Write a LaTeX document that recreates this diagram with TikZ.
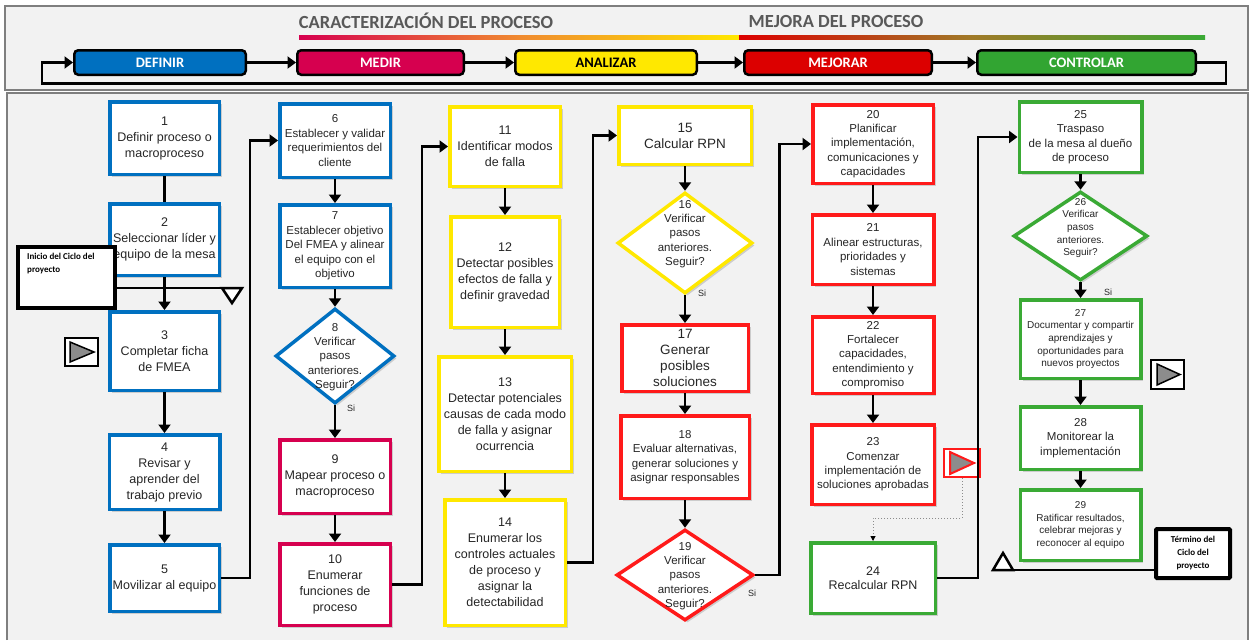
\documentclass[tikz,border=0pt]{standalone}
\usepackage{fontspec}
\setmainfont{Liberation Sans}
\newfontfamily\calfont{Carlito}
\usetikzlibrary{arrows.meta,shapes.geometric,shadows}
\definecolor{bgc}{HTML}{F2F2F2}
\definecolor{frm}{HTML}{7F7F7F}
\definecolor{cblue}{HTML}{0070C0}
\definecolor{ccrim}{HTML}{D6004F}
\definecolor{cyel}{HTML}{FFE800}
\definecolor{cred}{HTML}{FF1A1A}
\definecolor{cdred}{HTML}{DC0000}
\definecolor{cgreen}{HTML}{3AAA35}
\definecolor{cdgreen}{HTML}{32A532}
\definecolor{corange}{HTML}{F08A30}
\definecolor{colive}{HTML}{A07A28}
\definecolor{ttxt}{HTML}{595959}
\definecolor{btxt}{HTML}{262626}
\begin{document}
\begin{tikzpicture}[x=1pt,y=-1pt,
  fA/.style={font=\fontsize{12.5}{16}\selectfont},
  fB/.style={font=\fontsize{11.5}{14.4}\selectfont},
  fC/.style={font=\fontsize{13.5}{16}\selectfont},
  fD/.style={font=\fontsize{10}{12.6}\selectfont},
  fE/.style={font=\fontsize{12.5}{14.5}\selectfont},
  shd/.style={drop shadow={shadow xshift=2.5pt,shadow yshift=-2.5pt,fill=black!20,opacity=1}},
  box/.style={draw=#1, line width=3.5pt, fill=white, rectangle, align=center, inner sep=0pt, text=btxt, shd},
  dia/.style={draw=#1, line width=3.5pt, fill=white, diamond, inner sep=0pt, shd},
  dtxt/.style={align=center, text=btxt, inner sep=0pt},
  arr/.style={line width=2.5pt, -{Triangle[length=8.5pt,width=12pt]}},
  conn/.style={line width=2.5pt},
  phase/.style={draw=black, line width=2.5pt, rounded corners=4pt, fill=#1, text=white, font=\calfont\bfseries\fontsize{14.5}{16}\selectfont, inner sep=0pt, minimum height=24.5pt},
  ttl/.style={text=ttxt, font=\calfont\bfseries\fontsize{18.5}{21}\selectfont, inner sep=0pt},
  silbl/.style={font=\fontsize{9}{10}\selectfont, text=btxt, inner sep=0pt},
  tri/.style={draw=black, line width=2.5pt, fill=white, line join=miter},
  icon/.style={draw=#1, line width=2pt, fill=white, inner sep=0pt},
  cyc/.style={draw=black, line width=4pt, fill=white, inner sep=0pt, font=\calfont\bfseries\fontsize{9}{13}\selectfont}
]
\useasboundingbox (0,0) rectangle (1252,640);
\fill[white] (0,0) rectangle (1252,640);
% header frame
\draw[draw=frm, line width=1.5pt, fill=bgc] (5,6) rectangle (1248,90);
\fill[bgc] (7,93) rectangle (1248,640);
\draw[frm, line width=1.5pt] (7,640) -- (7,93) -- (1248,93) -- (1248,640);

% titles and gradient bars
\node[ttl] (t1) at (426,21) {CARACTERIZACIÓN DEL PROCESO};
\node[ttl] (t2) at (836,21) {MEJORA DEL PROCESO};
\shade[left color=ccrim, right color=cyel, middle color=corange] (299,35) rectangle (739,39);
\shade[left color=cdred, right color=cgreen, middle color=colive] (739,35) rectangle (1205,39);

% phases
\node[phase=cblue, minimum width=171.5pt] (def) at (160,62.5) {DEFINIR};
\node[phase=ccrim, minimum width=166.5pt] (med) at (380.5,62.5) {MEDIR};
\node[phase=cyel, minimum width=181.5pt, text=black] (ana) at (606,62.5) {ANALIZAR};
\node[phase=cdred, minimum width=187.5pt] (mej) at (838,62.5) {MEJORAR};
\node[phase=cdgreen, minimum width=218.5pt] (ctl) at (1086.5,62.5) {CONTROLAR};
\draw[arr] (def) -- (med);
\draw[arr] (med) -- (ana);
\draw[arr] (ana) -- (mej);
\draw[arr] (mej) -- (ctl);
\draw[arr] (ctl.east) -- ++(29,0) -- ++(0,21) -| ([xshift=-31pt]def.west) -- (def.west);

% column 1
\node[box=cblue, fA, minimum width=109.5pt, minimum height=72.5pt] (n1) at (164.5,138) {1\\Definir proceso o\\macroproceso};
\node[box=cblue, fA, minimum width=109.5pt, minimum height=71.5pt] (n2) at (164.5,239.5) {2\\Seleccionar líder y\\equipo de la mesa};
\node[box=cblue, fA, minimum width=109.5pt, minimum height=78.5pt] (n3) at (164.5,351) {3\\Completar ficha\\de FMEA};
\node[box=cblue, fA, minimum width=110.5pt, minimum height=74.5pt] (n4) at (164.5,472) {4\\Revisar y\\aprender del\\trabajo previo};
\node[box=cblue, fA, minimum width=109.5pt, minimum height=66.5pt] (n5) at (164.5,578) {5\\Movilizar al equipo};
\draw[conn] (n1) -- (n2);
\draw[arr] (n2) -- (n3);
\draw[arr] (n3) -- (n4);
\draw[arr] (n4) -- (n5);

% column 2
\node[box=cblue, fB, minimum width=110.5pt, minimum height=73.5pt] (n6) at (335,140.5) {6\\Establecer y validar\\requerimientos del\\cliente};
\node[box=cblue, fB, minimum width=110.5pt, minimum height=82.5pt] (n7) at (335,246) {7\\Establecer objetivo\\Del FMEA y alinear\\el equipo con el\\objetivo};
\node[dia=cblue, minimum width=119pt, minimum height=95pt] (d8) at (335,356) {};
\node[dtxt, fB] (d8t) at (335,357) {8\\Verificar\\pasos\\anteriores.\\Seguir?};
\node[box=ccrim, fA, minimum width=110.5pt, minimum height=73.5pt] (n9) at (335,476.5) {9\\Mapear proceso o\\macroproceso};
\node[box=ccrim, fA, minimum width=110.5pt, minimum height=81.5pt] (n10) at (335,584.5) {10\\Enumerar\\funciones de\\proceso};
\node[silbl] (s8) at (351,408) {Si};
\draw[arr] (n5.east) -- ++(29,0) |- (n6.west);
\draw[arr] (n6) -- (n7);
\draw[arr] (n7) -- (d8);
\draw[arr] (d8) -- (n9);
\draw[arr] (n9) -- (n10);

% column 3
\node[box=cyel, fA, minimum width=110.5pt, minimum height=79.5pt] (n11) at (505,146.5) {11\\Identificar modos\\de falla};
\node[box=cyel, fA, minimum width=108.5pt, minimum height=110.5pt] (n12) at (505,272) {12\\Detectar posibles\\efectos de falla y\\definir gravedad};
\node[box=cyel, fA, minimum width=132.5pt, minimum height=114.5pt] (n13) at (505,414) {13\\Detectar potenciales\\causas de cada modo\\de falla y asignar\\ocurrencia};
\node[box=cyel, fA, minimum width=120.5pt, minimum height=125.5pt] (n14) at (505,562.5) {14\\Enumerar los\\controles actuales\\de proceso y\\asignar la\\detectabilidad};
\draw[arr] (n10.east) -- ++(30,0) |- (n11.west);
\draw[arr] (n11) -- (n12);
\draw[arr] (n12) -- (n13);
\draw[arr] (n13) -- (n14);

% column 4
\node[box=cyel, fC, minimum width=132.5pt, minimum height=57.5pt] (n15) at (685,135.5) {15\\Calcular RPN};
\node[dia=cyel, minimum width=135pt, minimum height=101pt] (d16) at (685,243) {};
\node[dtxt, fB] (d16t) at (685,234) {16\\Verificar\\pasos\\anteriores.\\Seguir?};
\node[box=cred, fC, minimum width=126.5pt, minimum height=66.5pt] (n17) at (685,358) {17\\Generar\\posibles\\soluciones};
\node[box=cred, fB, minimum width=128.5pt, minimum height=82.5pt] (n18) at (685,457) {18\\Evaluar alternativas,\\generar soluciones y\\asignar responsables};
\node[dia=cred, minimum width=137pt, minimum height=91pt] (d19) at (685,575) {};
\node[dtxt, fB] (d19t) at (685,576) {19\\Verificar\\pasos\\anteriores.\\Seguir?};
\node[silbl] (s16) at (702,293) {Si};
\node[silbl] (s19) at (752,593) {Si};
\draw[arr] (n14.east) -- ++(26,0) |- (n15.west);
\draw[arr] (n15) -- (d16);
\draw[arr] (d16) -- (n17);
\draw[arr] (n17) -- (n18);
\draw[arr] (n18) -- (d19);

% column 5
\node[box=cred, fB, minimum width=120.5pt, minimum height=78.5pt] (n20) at (873,144) {20\\Planificar\\implementación,\\comunicaciones y\\capacidades};
\node[box=cred, fB, minimum width=121.5pt, minimum height=69.5pt] (n21) at (873,249.5) {21\\Alinear estructuras,\\prioridades y\\sistemas};
\node[box=cred, fB, minimum width=121.5pt, minimum height=76.5pt] (n22) at (873,355) {22\\Fortalecer\\capacidades,\\entendimiento y\\compromiso};
\node[box=cred, fB, minimum width=122.5pt, minimum height=79.5pt] (n23) at (873,464.5) {23\\Comenzar\\implementación de\\soluciones aprobadas};
\node[box=cgreen, fE, minimum width=124.5pt, minimum height=70.5pt] (n24) at (873,578) {24\\Recalcular RPN};
\draw[arr] (d19.east) -- ++(24,0) |- (n20.west);
\draw[arr] (n20) -- (n21);
\draw[arr] (n21) -- (n22);
\draw[arr] (n22) -- (n23);
% red play icon
\node[icon=cred, minimum width=36pt, minimum height=28pt] (ic2) at (962,463) {};
\draw[draw=cred, fill=black!45, line width=2pt, line join=miter] (950,452) -- (950,474) -- (974,463) -- cycle;
\draw[draw=black!45, line width=1pt, dotted, -{Triangle[length=5pt,width=5pt,black]}] (ic2.south) -- ++(0,40) -| (n24.north);

% column 6
\node[box=cgreen, fB, minimum width=122.5pt, minimum height=70.5pt] (n25) at (1080.5,137) {25\\Traspaso\\de la mesa al dueño\\de proceso};
\node[dia=cgreen, minimum width=134pt, minimum height=89pt] (d26) at (1080.5,236) {};
\node[dtxt, fD] (d26t) at (1080.5,228) {26\\Verificar\\pasos\\anteriores.\\Seguir?};
\node[box=cgreen, fD, minimum width=120.5pt, minimum height=78.5pt] (n27) at (1080.5,339) {27\\Documentar y compartir\\aprendizajes y\\oportunidades para\\nuevos proyectos};
\node[box=cgreen, fB, minimum width=120.5pt, minimum height=62.5pt] (n28) at (1080.5,438) {28\\Monitorear la\\implementación};
\node[box=cgreen, fD, minimum width=120.5pt, minimum height=70.5pt] (n29) at (1080.5,525) {29\\Ratificar resultados,\\celebrar mejoras y\\reconocer al equipo};
\node[silbl] (s26) at (1108,292) {Si};
\draw[arr] (n24.east) -- ++(41,0) |- (n25.west);
\draw[arr] (n25) -- (d26);
\draw[arr] (d26) -- (n27);
\draw[arr] (n27) -- (n28);
\draw[arr] (n28) -- (n29);
% black play icon
\node[icon=black, minimum width=33pt, minimum height=29pt] (ic3) at (1167.5,374.5) {};
\draw[draw=black, fill=black!45, line width=1.5pt, line join=miter] (1157,364) -- (1157,385) -- (1180,374.5) -- cycle;

% start of cycle
\node[cyc, minimum width=97pt, minimum height=61pt] (ini) at (66.5,277.5) {};
\node[anchor=north west, inner sep=0pt, align=left, font=\calfont\bfseries\fontsize{9}{12.5}\selectfont] (init) at (27,253) {Inicio del Ciclo del\\proyecto};
\coordinate (tA) at (222,288);
\coordinate (tB) at (242,288);
\draw[conn] (ini.east |- tA) -- (tB);
\draw[tri] (tA) -- (tB) -- (232,303) -- cycle;
% first play icon
\node[icon=black, minimum width=33pt, minimum height=28pt] (ic1) at (81.5,352) {};
\draw[draw=black, fill=black!45, line width=1.5pt, line join=miter] (70,342) -- (70,362) -- (94,352) -- cycle;

% end of cycle
\node[cyc, align=center, minimum width=74pt, minimum height=49pt, rounded corners=1pt] (term) at (1193,553.5) {Término del\\Ciclo del\\proyecto};
\coordinate (eA) at (993,570);
\coordinate (eB) at (1013,570);
\draw[conn] (term.west |- eA) -- (eA);
\draw[tri] (eA) -- (eB) -- (1003,553) -- cycle;
\end{tikzpicture}
\end{document}
